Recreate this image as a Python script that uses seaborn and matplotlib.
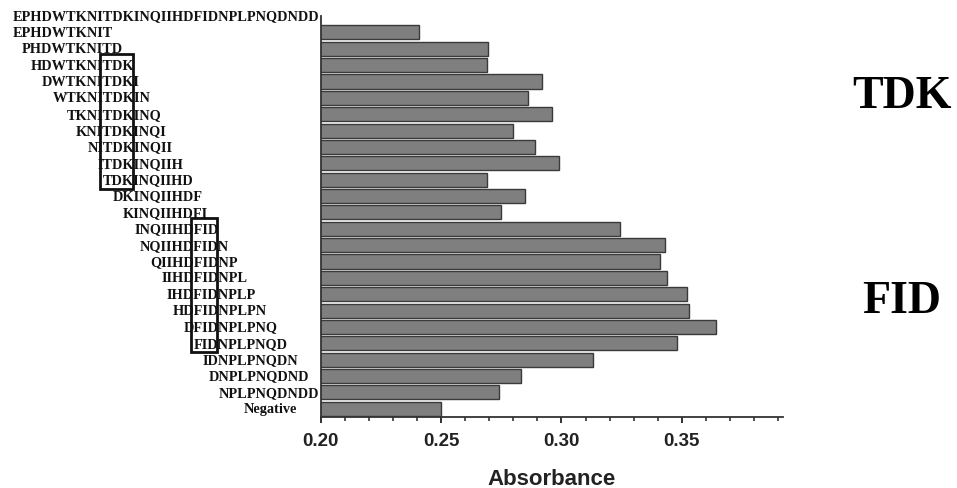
import numpy as np
import pandas as pd
import matplotlib
matplotlib.use("Agg")
import matplotlib.pyplot as plt
import matplotlib.transforms as mtransforms
from matplotlib.patches import Rectangle
from matplotlib.font_manager import FontProperties
from matplotlib.ticker import MultipleLocator
import seaborn as sns

# ---------------- data ----------------
full_sequence = "EPHDWTKNITDKINQIIHDFIDNPLPNQDNDD"
peptides = ["EPHDWTKNIT", "PHDWTKNITD", "HDWTKNITDK", "DWTKNITDKI", "WTKNITDKIN",
            "TKNITDKINQ", "KNITDKINQI", "NITDKINQII", "ITDKINQIIH", "TDKINQIIHD",
            "DKINQIIHDF", "KINQIIHDFI", "INQIIHDFID", "NQIIHDFIDN", "QIIHDFIDNP",
            "IIHDFIDNPL", "IHDFIDNPLP", "HDFIDNPLPN", "DFIDNPLPNQ", "FIDNPLPNQD",
            "IDNPLPNQDN", "DNPLPNQDND", "NPLPNQDNDD", "Negative"]
absorbance = [0.241, 0.2695, 0.269, 0.292, 0.286, 0.296, 0.280, 0.289, 0.299, 0.269,
              0.285, 0.275, 0.3245, 0.343, 0.341, 0.344, 0.352, 0.353, 0.364, 0.348,
              0.313, 0.283, 0.274, 0.250]
motifs = ["TDK", "FID"]
motif_rows = [("HDWTKNITDK", "TDKINQIIHD"), ("INQIIHDFID", "FIDNPLPNQD")]
x_ticks = [0.20, 0.25, 0.30, 0.35]

df = pd.DataFrame({"peptide": peptides, "absorbance": absorbance})

# ---------------- figure ----------------
W, H, DPI = 957, 489, 100
sns.set_theme(style="white")
fig = plt.figure(figsize=(W / DPI, H / DPI), dpi=DPI)
ax_left, ax_right, ax_top, ax_bottom = 320.7, 783, 17, 418
ax = fig.add_axes([ax_left / W, 1 - ax_bottom / H, (ax_right - ax_left) / W, (ax_bottom - ax_top) / H])

sns.barplot(data=df, x="absorbance", y="peptide", order=peptides, orient="h",
            color="#7f7f7f", edgecolor="#3a3a3a", linewidth=1.0, width=0.86,
            saturation=1, ax=ax)

ax.set_xlim(0.20, 0.392)
ax.set_ylim(len(peptides) - 0.5, -1.0)
ax.set_xticks(x_ticks)
ax.set_xticklabels([f"{t:.2f}" for t in x_ticks])
ax.xaxis.set_minor_locator(MultipleLocator(0.01))
ax.tick_params(axis="x", which="major", direction="out", length=4.5, width=1.3,
               color="#222222", pad=6, bottom=True)
ax.tick_params(axis="x", which="minor", direction="out", length=3, width=1.1,
               color="#222222", bottom=True)
for lab in ax.get_xticklabels():
    lab.set_fontfamily("Liberation Sans")
    lab.set_fontweight("bold")
    lab.set_fontsize(13.5)
    lab.set_color("#222222")
ax.set_xlabel("Absorbance", fontfamily="Liberation Sans", fontweight="bold",
              fontsize=16, color="#222222", labelpad=14)
ax.set_ylabel("")
ax.set_yticks([])
for s in ["top", "right"]:
    ax.spines[s].set_visible(False)
for s in ["left", "bottom"]:
    ax.spines[s].set_visible(True)
    ax.spines[s].set_color("#333333")
    ax.spines[s].set_linewidth(1.3)

# ---------------- staggered peptide labels ----------------
renderer = fig.canvas.get_renderer()
fp = FontProperties(family="Liberation Serif", weight="bold", size=10)
w10, _, _ = renderer.get_text_width_height_descent(full_sequence, fp, ismath=False)
target_w = 303.0
fp = FontProperties(family="Liberation Serif", weight="bold", size=10 * target_w / w10)

def prefix_w(n):
    if n == 0:
        return 0.0
    w, _, _ = renderer.get_text_width_height_descent(full_sequence[:n], fp, ismath=False)
    return w

x0 = 12.5
trans = mtransforms.blended_transform_factory(mtransforms.IdentityTransform(), ax.transData)
ax.text(x0, -1.0, full_sequence, transform=trans, fontproperties=fp,
        ha="left", va="center", color="#111111", clip_on=False)
for i, p in enumerate(peptides):
    if p in full_sequence:
        k = full_sequence.index(p)
        xp = x0 + prefix_w(k)
    else:
        xp = 244
    ax.text(xp, i, p, transform=trans, fontproperties=fp, ha="left", va="center",
            color="#111111", clip_on=False)

# ---------------- motif boxes and labels ----------------
for m, (r0, r1), ylab in zip(motifs, motif_rows, [97.5, 302]):
    k = full_sequence.index(m)
    xa = x0 + prefix_w(k) - 3.5
    xb = x0 + prefix_w(k + len(m)) - 1.5
    i0 = peptides.index(r0) - 0.68
    i1 = peptides.index(r1) + 0.55
    ax.add_patch(Rectangle((xa, i0), xb - xa, i1 - i0, transform=trans, fill=False,
                           edgecolor="#111111", linewidth=2.0, clip_on=False))
    fig.text(902 / W, 1 - ylab / H, m, fontfamily="Liberation Serif", fontweight="bold",
             fontsize=33, ha="center", va="center", color="#000000")

fig.savefig("out.png", dpi=DPI)
